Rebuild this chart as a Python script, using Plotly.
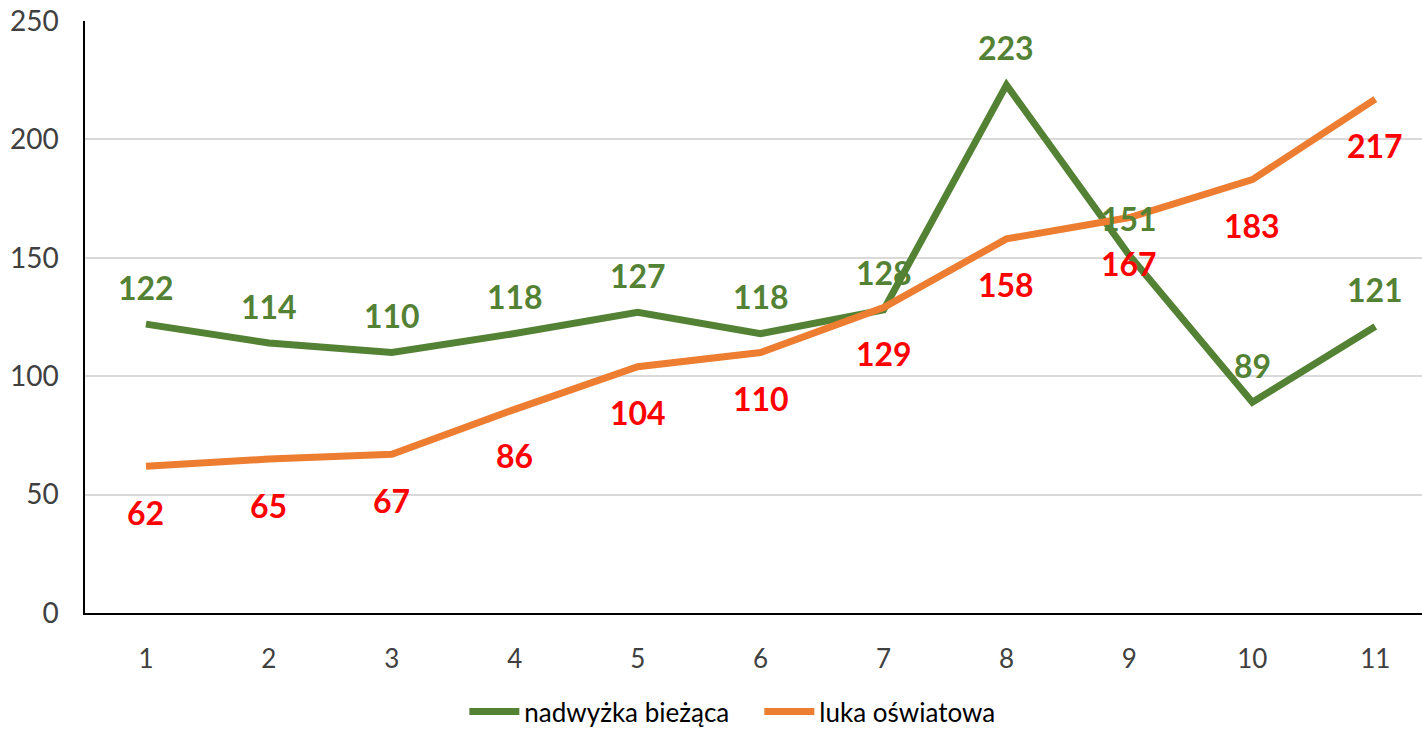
import plotly.graph_objects as go

categories = [1, 2, 3, 4, 5, 6, 7, 8, 9, 10, 11]
nadwyzka = [122, 114, 110, 118, 127, 118, 128, 223, 151, 89, 121]
luka = [62, 65, 67, 86, 104, 110, 129, 158, 167, 183, 217]
y_ticks = [0, 50, 100, 150, 200, 250]

GREEN = "#548235"
ORANGE = "#ED7D31"
RED = "#FF0000"
FONT = "Lato"
TICK = "#404040"

fig = go.Figure()
fig.add_trace(go.Scatter(x=categories, y=nadwyzka, mode="lines", name="nadwyżka bieżąca",
                         line=dict(color=GREEN, width=7)))
fig.add_trace(go.Scatter(x=categories, y=luka, mode="lines", name="luka oświatowa",
                         line=dict(color=ORANGE, width=7)))

for xv, yv in zip(categories, nadwyzka):
    fig.add_annotation(x=xv, y=yv, text=str(yv), showarrow=False, yshift=37,
                       font=dict(family=FONT, size=32, color=GREEN, weight="bold"))
for xv, yv in zip(categories, luka):
    fig.add_annotation(x=xv, y=yv, text=str(yv), showarrow=False, yshift=-46,
                       font=dict(family=FONT, size=32, color=RED, weight="bold"))

fig.update_layout(
    width=1422, height=732,
    margin=dict(l=85, r=0, t=21, b=119),
    plot_bgcolor="white", paper_bgcolor="white",
    font=dict(family=FONT, color=TICK),
    showlegend=True,
    legend=dict(orientation="h", xref="container", yref="container", x=0.534, y=0.028,
                xanchor="center", yanchor="middle", font=dict(size=26, color="#000000"),
                entrywidth=230, entrywidthmode="pixels", itemwidth=50),
)
fig.update_xaxes(range=[0.504, 11.38], tickvals=categories, showgrid=False, automargin=False,
                 showline=True, linecolor="black", linewidth=1.5, zeroline=False,
                 tickfont=dict(size=26, color=TICK), ticks="", ticklabelstandoff=22)
fig.update_yaxes(range=[0, 250], tickvals=y_ticks, showgrid=True, gridcolor="#D9D9D9",
                 gridwidth=1.5, showline=True, linecolor="black", linewidth=1.5, zeroline=False,
                 automargin=False,
                 tickfont=dict(size=28, color=TICK), ticks="", ticklabelstandoff=19)

fig.write_html("out.html", config={"displayModeBar": False},
               post_script="document.body.style.margin='0';")
